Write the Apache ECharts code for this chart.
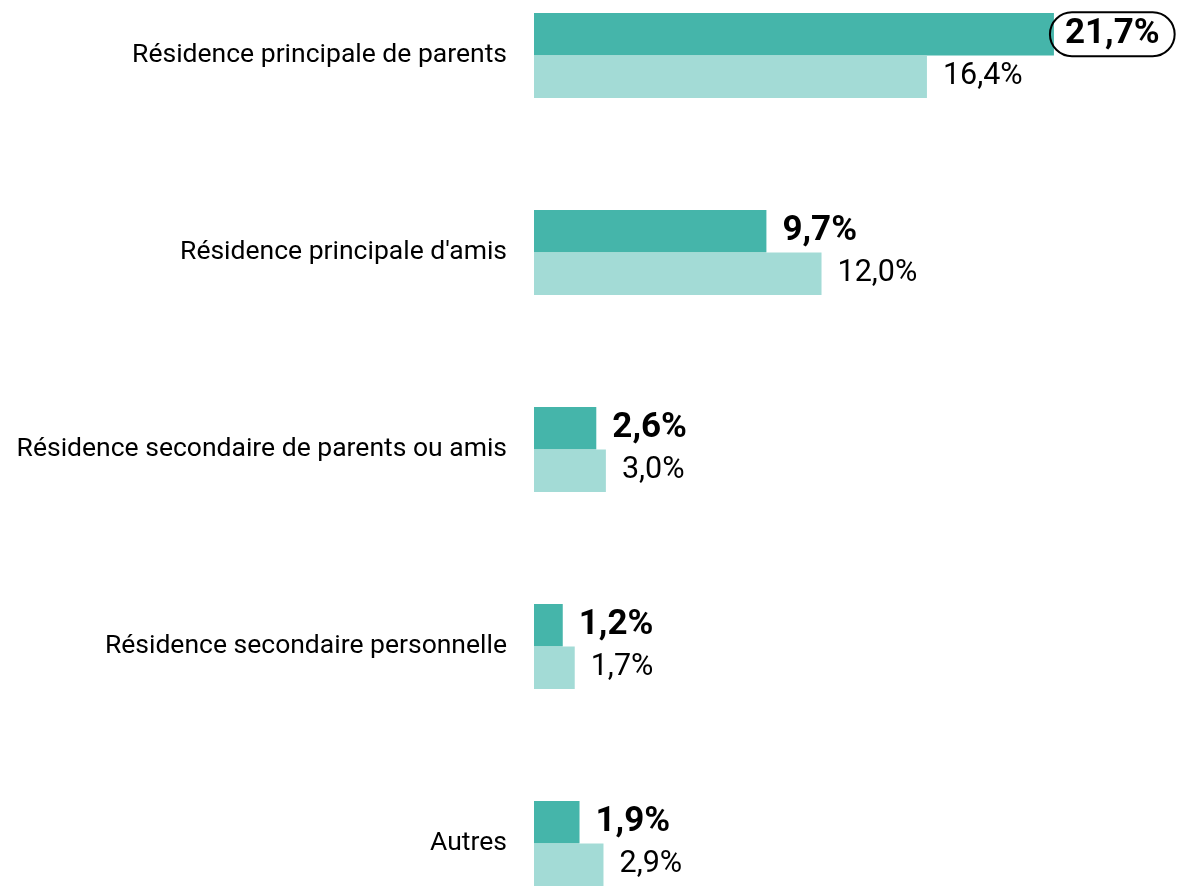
<!DOCTYPE html>
<html>
<head>
<meta charset="utf-8">
<script src="https://cdn.jsdelivr.net/npm/echarts@6/dist/echarts.min.js"></script>
<style>
    html, body { margin: 0; padding: 0; background: #fff; }
    #chart { width: 1182px; height: 887px; }
</style>
</head>
<body>
<div id="chart"></div>
<script>
    var categories = [
        'Résidence principale de parents',
        "Résidence principale d'amis",
        'Résidence secondaire de parents ou amis',
        'Résidence secondaire personnelle',
        'Autres'
    ];
    var valuesDark = [21.7, 9.7, 2.6, 1.2, 1.9];
    var valuesLight = [16.4, 12.0, 3.0, 1.7, 2.9];

    var fontFamily = 'Roboto, "Noto Sans", sans-serif';

    function fmt(v) {
        return v.toFixed(1).replace('.', ',') + '%';
    }

    var myChart = echarts.init(document.getElementById('chart'));

    // la première valeur est entourée
    var darkData = valuesDark.map(function (v, i) {
        if (i === 0) {
            return {
                value: v,
                label: {
                    borderColor: '#000',
                    borderWidth: 2,
                    borderRadius: 30,
                    padding: [5, 15, 4, 15],
                    distance: -4
                }
            };
        }
        return v;
    });

    myChart.setOption({
        animation: false,
        grid: {
            left: 534,
            width: 599,
            top: 55.5,
            height: 788
        },
        xAxis: {
            type: 'value',
            min: 0,
            max: 25,
            show: false
        },
        yAxis: {
            type: 'category',
            data: categories,
            inverse: true,
            boundaryGap: false,
            axisLine: {show: false},
            axisTick: {show: false},
            axisLabel: {
                margin: 27,
                color: '#000',
                fontSize: 26.5,
                fontFamily: fontFamily
            }
        },
        series: [
            {
                type: 'bar',
                data: darkData,
                barWidth: 42.5,
                barGap: '0%',
                itemStyle: {color: '#45B5AA'},
                label: {
                    show: true,
                    position: 'right',
                    distance: 16,
                    color: '#000',
                    fontSize: 35,
                    fontWeight: 'bold',
                    fontFamily: fontFamily,
                    formatter: function (p) { return fmt(p.value); }
                }
            },
            {
                type: 'bar',
                data: valuesLight,
                barWidth: 42.5,
                barGap: '0%',
                itemStyle: {color: '#A3DBD6'},
                label: {
                    show: true,
                    position: 'right',
                    distance: 16,
                    color: '#000',
                    fontSize: 30.5,
                    fontFamily: fontFamily,
                    formatter: function (p) { return fmt(p.value); }
                }
            }
        ]
    });
</script>
</body>
</html>
